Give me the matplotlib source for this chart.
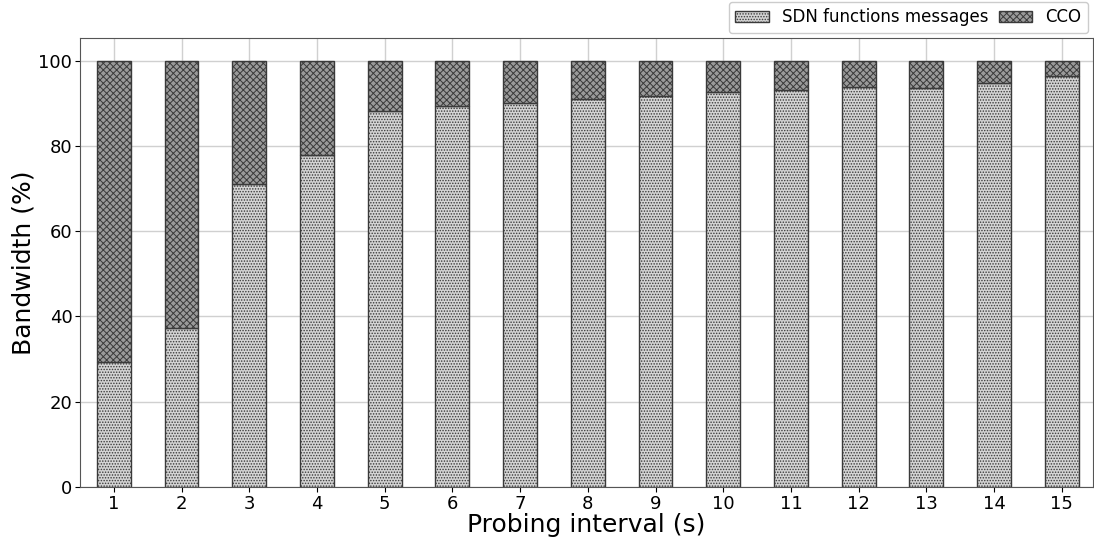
import matplotlib
matplotlib.use("Agg")
import matplotlib.pyplot as plt
import numpy as np

# probing interval (s)
intervals = list(range(1, 16))
# share of bandwidth used by SDN functions messages (%)
sdn_share = [29.3, 37.2, 71.0, 77.8, 88.3, 89.3, 90.0, 90.9, 91.8, 92.7, 93.1, 93.7, 93.5, 94.8, 96.5]
# remainder goes to CCO
cco_share = [100 - v for v in sdn_share]

plt.rcParams['hatch.color'] = '#333333'
plt.rcParams['hatch.linewidth'] = 0.7

fig = plt.figure(figsize=(10.94, 5.4), dpi=100)
ax = fig.add_axes([0.0731, 0.0981, 0.9259, 0.8315])

x = np.array(intervals)
ax.bar(x, sdn_share, width=0.5, color='#d4d4d4', edgecolor='#3a3a3a',
       linewidth=1.0, hatch='......', label='SDN functions messages', zorder=3)
ax.bar(x, cco_share, width=0.5, bottom=sdn_share, color='#9a9a9a',
       edgecolor='#3a3a3a', linewidth=1.0, hatch='xxxxx', label='CCO', zorder=3)

ax.set_xlim(0.5, 15.46)
ax.set_ylim(0, 105.3)
ax.set_xticks(intervals)
ax.set_yticks([0, 20, 40, 60, 80, 100])
ax.tick_params(labelsize=13, pad=2)
ax.grid(True, color='#d0d0d0', linewidth=1.0, zorder=0)
ax.set_axisbelow(True)
for s in ax.spines.values():
    s.set_color('#555555')

ax.set_xlabel('Probing interval (s)', fontsize=18, labelpad=0)
ax.set_ylabel('Bandwidth (%)', fontsize=18, labelpad=2)

ax.legend(loc='lower right', bbox_to_anchor=(1.0, 1.0), ncol=2, fontsize=12,
          borderaxespad=0.3, handlelength=2.0, columnspacing=0.6,
          handletextpad=0.8, framealpha=1, edgecolor='#cccccc')

fig.savefig('out.png', dpi=100)
